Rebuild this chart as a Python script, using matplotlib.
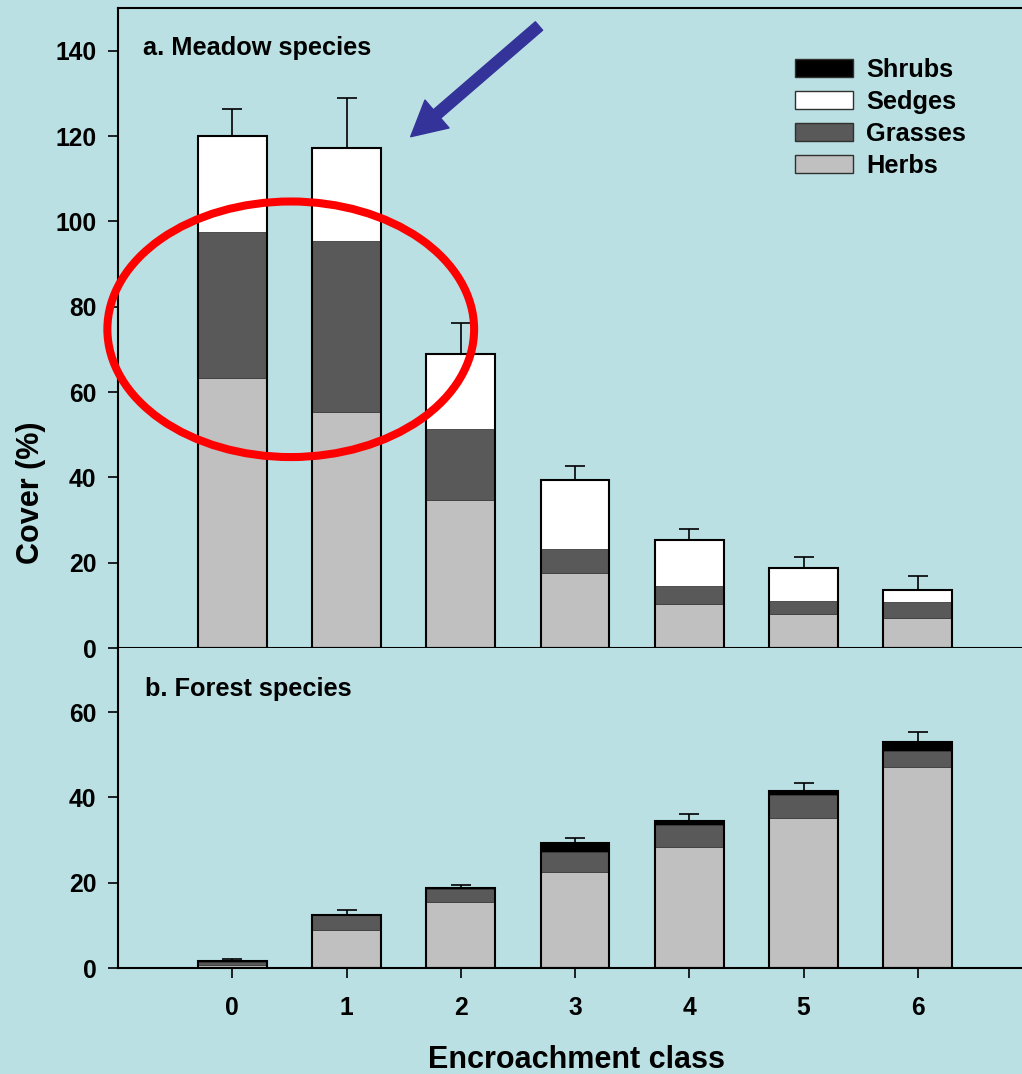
import matplotlib
matplotlib.use("Agg")
import matplotlib.pyplot as plt
from matplotlib.patches import Patch, Ellipse
import numpy as np

plt.rcParams["font.family"] = ["Liberation Sans", "DejaVu Sans"]
plt.rcParams["font.weight"] = "bold"

# Encroachment classes
classes = [0, 1, 2, 3, 4, 5, 6]

# a. Meadow species cover (%)
meadow_herbs = [63.2, 55.3, 34.8, 17.5, 10.3, 8.0, 7.0]
meadow_grasses = [34.4, 40.2, 16.5, 5.7, 4.2, 3.0, 3.7]
meadow_sedges = [22.5, 21.8, 17.7, 16.1, 10.9, 7.7, 3.0]
meadow_shrubs = [0, 0, 0, 0, 0, 0, 0]
meadow_err = [6.3, 11.5, 7.2, 3.4, 2.6, 2.6, 3.2]

# b. Forest species cover (%)
forest_herbs = [0.6, 8.9, 15.5, 22.4, 28.3, 35.2, 47.0]
forest_grasses = [0.9, 3.5, 3.0, 4.9, 5.2, 5.3, 3.9]
forest_sedges = [0, 0, 0, 0, 0, 0, 0]
forest_shrubs = [0.1, 0.1, 0.2, 1.9, 0.9, 1.0, 2.1]
forest_err = [0.5, 1.1, 0.8, 1.2, 1.7, 1.9, 2.3]

group_names = ["Herbs", "Grasses", "Sedges", "Shrubs"]
group_colors = {"Herbs": "#c0c0c0", "Grasses": "#595959",
                "Sedges": "#ffffff", "Shrubs": "#000000"}

BG = "#bae0e3"
W, H = 1022, 1074
fig = plt.figure(figsize=(W / 100, H / 100), dpi=100, facecolor=BG)

ax_top = fig.add_axes([118 / W, 1 - 648 / H, 914 / W, 640 / H], facecolor=BG)
ax_bot = fig.add_axes([118 / W, 1 - 968 / H, 914 / W, 320 / H], facecolor=BG)

bar_w = 0.6


def stacked(ax, layers, err):
    x = np.array(classes, dtype=float)
    bottom = np.zeros(len(x))
    for name, vals in zip(group_names, layers):
        vals = np.array(vals, dtype=float)
        ax.bar(x, vals, bar_w, bottom=bottom, color=group_colors[name],
               edgecolor="#404040", linewidth=0.6, zorder=2)
        bottom = bottom + vals
    # outline of the whole stack
    ax.bar(x, bottom, bar_w, color="none", edgecolor="black",
           linewidth=1.5, zorder=3)
    ax.errorbar(x, bottom, yerr=[np.zeros(len(x)), err], fmt="none",
                ecolor="black", elinewidth=1.2, capsize=7.2, capthick=1.2,
                zorder=1)


stacked(ax_top, [meadow_herbs, meadow_grasses, meadow_sedges, meadow_shrubs],
        meadow_err)
stacked(ax_bot, [forest_herbs, forest_grasses, forest_sedges, forest_shrubs],
        forest_err)

for ax in (ax_top, ax_bot):
    ax.set_xlim(-1, 7)
    for s in ax.spines.values():
        s.set_linewidth(1.5)
    ax.tick_params(axis="y", direction="out", length=7, width=1.2,
                   labelsize=17.7, pad=8.5)

ax_top.set_ylim(0, 150)
ax_top.set_yticks(np.arange(0, 141, 20))
ax_top.set_xticks([])
ax_top.spines["right"].set_visible(False)

ax_bot.set_ylim(0, 75)
ax_bot.set_yticks([0, 20, 40, 60])
ax_bot.set_xticks(classes)
ax_bot.set_xticklabels([str(c) for c in classes])
ax_bot.tick_params(axis="x", direction="out", length=7, width=1.2,
                   labelsize=17.7, pad=13)
ax_bot.spines["top"].set_visible(False)
ax_bot.spines["right"].set_visible(False)
for ax in (ax_top, ax_bot):
    for lab in ax.get_xticklabels() + ax.get_yticklabels():
        lab.set_fontweight("bold")

ax_top.text(143 / W, 1 - 48 / H, "a. Meadow species", transform=fig.transFigure,
            fontsize=18.3, fontweight="bold", va="center", ha="left")
ax_bot.text(145 / W, 1 - 689 / H, "b. Forest species", transform=fig.transFigure,
            fontsize=18.3, fontweight="bold", va="center", ha="left")

fig.text(31 / W, 1 - 493 / H, "Cover (%)", rotation=90, fontsize=22,
         fontweight="bold", ha="center", va="center")
fig.text(576 / W, 1 - 1060 / H, "Encroachment class", fontsize=22,
         fontweight="bold", ha="center", va="center")

# Legend, top row first
handles = [Patch(facecolor=group_colors[n], edgecolor="#303030", linewidth=1.0,
                 label=n) for n in ["Shrubs", "Sedges", "Grasses", "Herbs"]]
ax_top.legend(handles=handles, loc="upper left", frameon=False,
              bbox_to_anchor=(795 / W, 1 - 58 / H), bbox_transform=fig.transFigure,
              borderpad=0, borderaxespad=0, handlelength=2.3,
              handleheight=0.7, handletextpad=0.5, labelspacing=0.31,
              prop={"weight": "bold", "size": 18.3})

# Highlight ring around the first two classes
ring = Ellipse((0.512, 74.7), 3.21, 59.9, fill=False, edgecolor="#ff0000",
               linewidth=5.8, clip_on=False, zorder=5)
ax_top.add_patch(ring)

# Pointer arrow
ax_top.annotate(
    "", xy=(410.7, H - 136.7), xytext=(539, H - 26), xycoords="figure pixels",
    textcoords="figure pixels",
    arrowprops=dict(arrowstyle="simple,head_length=25,head_width=26.5,tail_width=8",
                    mutation_scale=1, color="#333399", shrinkA=0, shrinkB=0),
    annotation_clip=False, zorder=6)

fig.savefig("out.png", dpi=100, facecolor=BG)
